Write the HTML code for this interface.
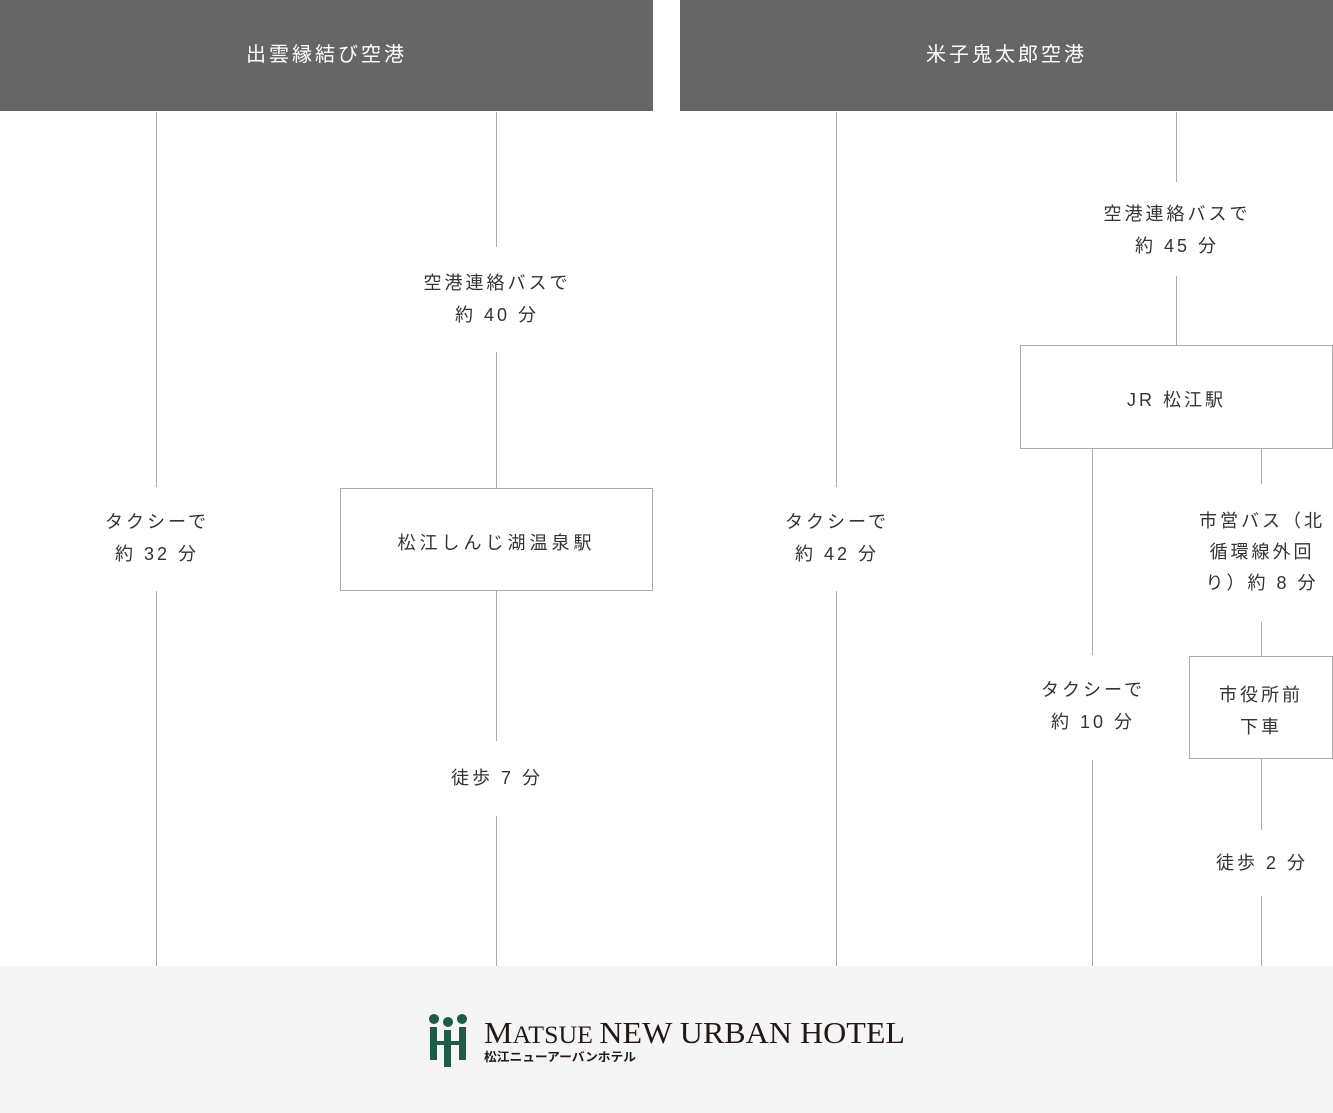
<!DOCTYPE html>
<html><head><meta charset="utf-8"><style>
body{margin:0;width:1333px;height:1113px;position:relative;background:#fff;overflow:hidden;font-family:"Liberation Sans","Noto Sans CJK JP",sans-serif;}
.h{position:absolute;top:0;height:111px;background:#666;color:#fff;font-size:20px;letter-spacing:3px;display:flex;align-items:center;justify-content:center;padding-bottom:6px;box-sizing:border-box;}
.v{position:absolute;width:1px;background:#aaa;}
.t{position:absolute;width:300px;margin-left:-150px;text-align:center;color:#333;font-size:18px;letter-spacing:3px;line-height:32px;white-space:nowrap;}
.b{position:absolute;border:1px solid #aaa;box-sizing:border-box;background:#fff;display:flex;align-items:center;justify-content:center;text-align:center;color:#333;font-size:18px;letter-spacing:3px;line-height:32px;padding-top:6px;}
.f{position:absolute;left:0;top:966px;width:1333px;height:147px;background:#f5f5f5;}
</style></head><body>
<div class="h" style="left:0;width:653px">出雲縁結び空港</div>
<div class="h" style="left:680px;width:653px">米子鬼太郎空港</div>

<div class="v" style="left:156px;top:112px;height:375px"></div>
<div class="v" style="left:156px;top:591px;height:375px"></div>
<div class="t" style="left:157px;top:506px">タクシーで<br>約 32 分</div>

<div class="v" style="left:496px;top:112px;height:135px"></div>
<div class="t" style="left:497px;top:267px">空港連絡バスで<br>約 40 分</div>
<div class="v" style="left:496px;top:352px;height:136px"></div>
<div class="b" style="left:340px;top:488px;width:313px;height:103px;letter-spacing:4px">松江しんじ湖温泉駅</div>
<div class="v" style="left:496px;top:591px;height:150px"></div>
<div class="t" style="left:497px;top:762px">徒歩 7 分</div>
<div class="v" style="left:496px;top:816px;height:150px"></div>

<div class="v" style="left:836px;top:112px;height:375px"></div>
<div class="v" style="left:836px;top:591px;height:375px"></div>
<div class="t" style="left:837px;top:506px">タクシーで<br>約 42 分</div>

<div class="v" style="left:1176px;top:112px;height:70px"></div>
<div class="t" style="left:1177px;top:198px">空港連絡バスで<br>約 45 分</div>
<div class="v" style="left:1176px;top:276px;height:70px"></div>
<div class="b" style="left:1020px;top:345px;width:313px;height:104px">JR 松江駅</div>

<div class="v" style="left:1092px;top:449px;height:206px"></div>
<div class="t" style="left:1093px;top:674px">タクシーで<br>約 10 分</div>
<div class="v" style="left:1092px;top:760px;height:206px"></div>

<div class="v" style="left:1261px;top:449px;height:35px"></div>
<div class="t" style="left:1262px;top:506px;line-height:31px">市営バス（北<br>循環線外回<br>り）約 8 分</div>
<div class="v" style="left:1261px;top:622px;height:34px"></div>
<div class="b" style="left:1189px;top:656px;width:144px;height:103px">市役所前<br>下車</div>
<div class="v" style="left:1261px;top:759px;height:71px"></div>
<div class="t" style="left:1262px;top:847px">徒歩 2 分</div>
<div class="v" style="left:1261px;top:896px;height:70px"></div>

<div class="f">
<svg width="1333" height="147" style="position:absolute;left:0;top:0">
<g fill="#1f5c45">
<circle cx="434" cy="53" r="5"/><circle cx="448" cy="56" r="5"/><circle cx="462" cy="53" r="5"/>
<rect x="430" y="61" width="7" height="33"/><rect x="444" y="64" width="7" height="37"/><rect x="459" y="61" width="7" height="33"/>
<rect x="430" y="75" width="36" height="4"/>
</g>
<text x="484" y="77" font-family="Liberation Serif,serif" font-size="31" fill="#231815" textLength="421" lengthAdjust="spacingAndGlyphs"><tspan>M</tspan><tspan font-size="25">ATSUE </tspan><tspan>NEW URBAN HOTEL</tspan></text>
<text x="484" y="95" font-family="Noto Sans CJK JP,sans-serif" font-size="12" font-weight="bold" fill="#231815" textLength="152" lengthAdjust="spacingAndGlyphs">松江ニューアーバンホテル</text>
</svg>
</div>
</body></html>
